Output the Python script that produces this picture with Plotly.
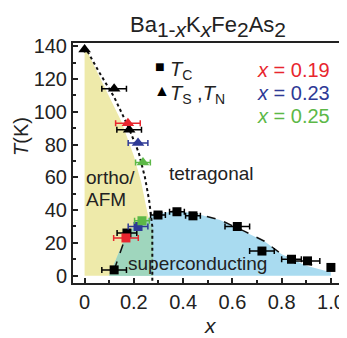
import plotly.graph_objects as go

# ---------------- data ----------------
tc_x = [0.12, 0.172, 0.298, 0.375, 0.44, 0.62, 0.72, 0.84, 0.905, 1.0]
tc_T = [3.5, 26, 37, 39, 36.5, 30, 15, 10, 9, 5]
tc_xerr = [0.05, 0.04, 0.03, 0.03, 0.03, 0.05, 0.05, 0.04, 0.05, 0.0]

ts_x = [0.0, 0.12, 0.181]
ts_T = [138, 114, 89]
ts_xerr = [0.0, 0.05, 0.05]

samp_x = [0.176, 0.217, 0.237]          # x = 0.19, 0.23, 0.25 samples
samp_Ts = [93, 81, 69]
samp_xs_tc = [0.168, 0.217, 0.233]
samp_Tc = [23, 30, 33.5]
samp_err = [0.05, 0.04, 0.03]
samp_labels = ["0.19", "0.23", "0.25"]
samp_colors = ["#e8262e", "#2e3a96", "#5cb847"]

# phase boundaries
afm_x = [0.0, 0.06, 0.12, 0.18, 0.22, 0.245, 0.262, 0.272, 0.275, 0.275]
afm_T = [140, 124, 109, 90, 75, 60, 46, 36, 30, -4.5]
yel_x = [0.0, 0.05, 0.10, 0.15, 0.20, 0.23, 0.25, 0.265, 0.278, 0.278, 0.0]
yel_T = [140, 125, 110, 94, 73, 57, 42, 32, 28, 0, 0]
dome_x = [0.28, 0.33, 0.375, 0.45, 0.55, 0.65, 0.73, 0.80, 0.88, 0.95]
dome_T = [38, 39, 39.5, 38, 34, 27, 21, 13, 8, 5.5]
blue_x = [0.10, 0.175, 0.25, 0.28, 0.375, 0.45, 0.55, 0.65, 0.73, 0.80, 0.90, 1.0, 1.0]
blue_T = [0, 27, 34, 37.5, 39.5, 38, 34, 27, 21, 13, 6, 2, 0]
teal_x = [0.10, 0.175, 0.25, 0.265, 0.278, 0.278]
teal_T = [0, 27, 34, 32, 28, 0]
cox_x = [0.12, 0.172]
cox_T = [3.5, 26]

FONT = "Liberation Sans, Arial, sans-serif"
TXT = "#222"

fig = go.Figure()
# fills
fig.add_trace(go.Scatter(x=yel_x, y=yel_T, fill="toself", mode="lines",
                         line=dict(width=0), fillcolor="#eeeaaa", hoverinfo="skip"))
fig.add_trace(go.Scatter(x=blue_x, y=blue_T, fill="toself", mode="lines",
                         line=dict(width=0), fillcolor="#a9dbf0", hoverinfo="skip"))
fig.add_trace(go.Scatter(x=teal_x, y=teal_T, fill="toself", mode="lines",
                         line=dict(width=0), fillcolor="#9fd6bd", hoverinfo="skip"))
# boundary lines
fig.add_trace(go.Scatter(x=afm_x, y=afm_T, mode="lines",
                         line=dict(color="#111", width=2, dash="dot")))
fig.add_trace(go.Scatter(x=dome_x, y=dome_T, mode="lines",
                         line=dict(color="#111", width=1.5, dash="dash")))
fig.add_trace(go.Scatter(x=cox_x, y=cox_T, mode="lines",
                         line=dict(color="#111", width=1.5, dash="dash")))

# black data
fig.add_trace(go.Scatter(x=tc_x, y=tc_T, mode="markers",
                         marker=dict(symbol="square", size=9, color="black"),
                         error_x=dict(type="data", array=tc_xerr, color="black",
                                      thickness=1.5, width=3)))
fig.add_trace(go.Scatter(x=ts_x, y=ts_T, mode="markers",
                         marker=dict(symbol="triangle-up", size=11, color="black"),
                         error_x=dict(type="data", array=ts_xerr, color="black",
                                      thickness=1.5, width=3)))
# coloured samples
for i in range(3):
    c = samp_colors[i]
    fig.add_trace(go.Scatter(x=[samp_x[i]], y=[samp_Ts[i]], mode="markers",
                             marker=dict(symbol="triangle-up", size=11, color=c),
                             error_x=dict(type="data", array=[samp_err[i]], color=c,
                                          thickness=1.5, width=3)))
    fig.add_trace(go.Scatter(x=[samp_xs_tc[i]], y=[samp_Tc[i]], mode="markers",
                             marker=dict(symbol="square", size=9, color=c),
                             error_x=dict(type="data", array=[samp_err[i]], color=c,
                                          thickness=1.5, width=3)))

OFF = 8  # default page body margin
W, H = 347 - OFF, 338 - OFF
ML, MR, MT, MB = 73 - OFF, 5, 43 - OFF, 55
PW, PH = W - ML - MR, H - MT - MB

def px(x): return (x - OFF - ML) / PW
def py(y): return (H - MB - (y - OFF)) / PH

ann = []
def A(text, x, y, size=19, color=TXT, xanchor="left", angle=0):
    ann.append(dict(text=text, x=px(x), y=py(y), xref="paper", yref="paper", showarrow=False,
                    xanchor=xanchor, yanchor="middle", textangle=angle,
                    font=dict(family=FONT, size=size, color=color)))

def big_sub(s, size=21):
    return "<sub><span style='font-size:%dpx'>%s</span></sub>" % (size, s)

A("Ba" + big_sub("1-<i>x</i>") + "K" + big_sub("<i>x</i>") + "Fe" + big_sub("2") + "As" + big_sub("2"),
  208, 26, size=22, xanchor="center")
A("■", 153, 67, size=16, color="black")
A("<i>T</i><sub>C</sub>", 168, 70, size=20)
A("▲", 152, 91, size=16, color="black")
A("<i>T</i><sub>S</sub> ,<i>T</i><sub>N</sub>", 168, 94, size=20)
for i, yy in enumerate([70, 93, 116]):
    A("<i>x</i> = " + samp_labels[i], 332, yy, size=20, color=samp_colors[i], xanchor="right")
A("ortho/", 84, 177, size=19)
A("AFM", 84, 199, size=19)
A("tetragonal", 167, 173, size=19)
A("superconducting", 126, 263, size=19)
A("<i>T</i>(K)", 21, 137, size=20, xanchor="center", angle=-90)
A("<i>x</i>", 210, 325, size=21, xanchor="center")

fig.update_layout(
    width=W, height=H,
    margin=dict(l=ML, r=MR, t=MT, b=MB, autoexpand=False),
    plot_bgcolor="white", paper_bgcolor="white",
    showlegend=False,
    annotations=ann,
    font=dict(family=FONT, size=20, color=TXT),
    xaxis=dict(range=[-0.047, 1.045], tickvals=[0, 0.2, 0.4, 0.6, 0.8, 1.0],
               ticktext=["0", "0.2", "0.4", "0.6", "0.8", "1.0"],
               ticks="inside", ticklen=5, tickwidth=1.5, tickcolor=TXT,
               minor=dict(dtick=0.1, ticks="inside", ticklen=3, tickcolor=TXT),
               showline=True, linewidth=2, linecolor=TXT, mirror=True,
               showgrid=False, zeroline=False, automargin=False,
               tickfont=dict(size=20)),
    yaxis=dict(range=[-4.5, 142], tickvals=[0, 20, 40, 60, 80, 100, 120, 140],
               ticks="inside", ticklen=5, tickwidth=1.5, tickcolor=TXT,
               minor=dict(dtick=10, ticks="inside", ticklen=3, tickcolor=TXT),
               showline=True, linewidth=2, linecolor=TXT, mirror=True,
               showgrid=False, zeroline=False, automargin=False,
               tickfont=dict(size=20)),
)

fig.write_html("out.html")
